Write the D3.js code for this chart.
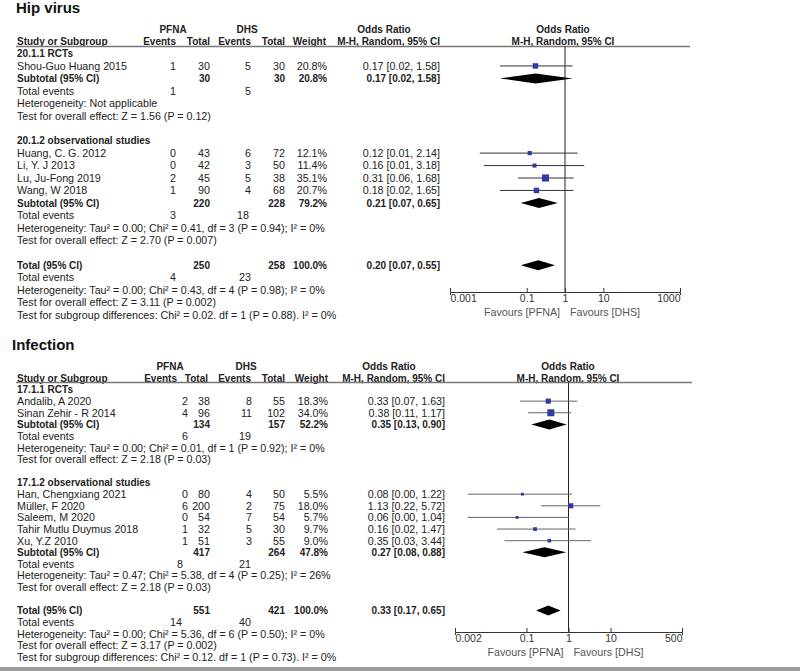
<!DOCTYPE html>
<html>
<head>
<meta charset="utf-8">
<script src="https://cdn.jsdelivr.net/npm/d3@7"></script>
<style>
  body { margin: 0; background: #fff; }
  text { font-family: "Liberation Sans", Arial, sans-serif; }
</style>
</head>
<body>
<div id="chart"></div>
<script>
// ---- Hip virus ----
const hipGroups = ["20.1.1 RCTs", "20.1.2 observational studies"];
const hipStudy = ["Shou-Guo Huang 2015", "Huang, C. G. 2012", "Li, Y. J 2013", "Lu, Ju-Fong  2019", "Wang, W 2018"];
const hipGroupOf = [0, 1, 1, 1, 1];
const hipPfnaEvents = [1, 0, 0, 2, 1];
const hipPfnaTotal = [30, 43, 42, 45, 90];
const hipDhsEvents = [5, 6, 3, 5, 4];
const hipDhsTotal = [30, 72, 50, 38, 68];
const hipWeight = [20.8, 12.1, 11.4, 35.1, 20.7];
const hipOR = [0.17, 0.12, 0.16, 0.31, 0.18];
const hipLow = [0.02, 0.006, 0.0077, 0.06, 0.02];
const hipHigh = [1.58, 2.14, 3.18, 1.68, 1.65];
// subgroup 1, subgroup 2, overall
const hipSumPfnaTotal = [30, 220, 250];
const hipSumDhsTotal = [30, 228, 258];
const hipSumWeight = [20.8, 79.2, 100.0];
const hipSumPfnaEvents = [1, 3, 4];
const hipSumDhsEvents = [5, 18, 23];
const hipSumOR = [0.17, 0.21, 0.20];
const hipSumLow = [0.02, 0.07, 0.07];
const hipSumHigh = [1.58, 0.65, 0.55];
const hipHet = [
  "Heterogeneity: Not applicable",
  "Heterogeneity: Tau² = 0.00; Chi² = 0.41, df = 3 (P = 0.94); I² = 0%",
  "Heterogeneity: Tau² = 0.00; Chi² = 0.43, df = 4 (P = 0.98); I² = 0%"
];
const hipZ = [
  "Test for overall effect: Z = 1.56 (P = 0.12)",
  "Test for overall effect: Z = 2.70 (P = 0.007)",
  "Test for overall effect: Z = 3.11 (P = 0.002)"
];
const hipSubDiff = "Test for subgroup differences: Chi² = 0.02. df = 1 (P = 0.88). I² = 0%";
const hipTicks = [0.001, 0.1, 1, 10, 1000];

// ---- Infection ----
const infGroups = ["17.1.1 RCTs", "17.1.2 observational studies"];
const infStudy = ["Andalib, A 2020", "Sinan Zehir - R 2014", "Han, Chengxiang  2021", "Müller, F 2020",
                  "Saleem, M  2020", "Tahir Mutlu Duymus 2018", "Xu, Y.Z 2010"];
const infGroupOf = [0, 0, 1, 1, 1, 1, 1];
const infPfnaEvents = [2, 4, 0, 6, 0, 1, 1];
const infPfnaTotal = [38, 96, 80, 200, 54, 32, 51];
const infDhsEvents = [8, 11, 4, 2, 7, 5, 3];
const infDhsTotal = [55, 102, 50, 75, 54, 30, 55];
const infWeight = [18.3, 34.0, 5.5, 18.0, 5.7, 9.7, 9.0];
const infOR = [0.33, 0.38, 0.08, 1.13, 0.06, 0.16, 0.35];
const infLow = [0.07, 0.11, 0.004, 0.22, 0.004, 0.02, 0.03];
const infHigh = [1.63, 1.17, 1.22, 5.72, 1.04, 1.47, 3.44];
const infSumPfnaTotal = [134, 417, 551];
const infSumDhsTotal = [157, 264, 421];
const infSumWeight = [52.2, 47.8, 100.0];
const infSumPfnaEvents = [6, 8, 14];
const infSumDhsEvents = [19, 21, 40];
const infSumOR = [0.35, 0.27, 0.33];
const infSumLow = [0.13, 0.08, 0.17];
const infSumHigh = [0.90, 0.88, 0.65];
const infHet = [
  "Heterogeneity: Tau² = 0.00; Chi² = 0.01, df = 1 (P = 0.92); I² = 0%",
  "Heterogeneity: Tau² = 0.47; Chi² = 5.38, df = 4 (P = 0.25); I² = 26%",
  "Heterogeneity: Tau² = 0.00; Chi² = 5.36, df = 6 (P = 0.50); I² = 0%"
];
const infZ = [
  "Test for overall effect: Z = 2.18 (P = 0.03)",
  "Test for overall effect: Z = 2.18 (P = 0.03)",
  "Test for overall effect: Z = 3.17 (P = 0.002)"
];
const infSubDiff = "Test for subgroup differences: Chi² = 0.12. df = 1 (P = 0.73). I² = 0%";
const infTicks = [0.002, 0.1, 1, 10, 500];

const svg = d3.select("#chart").append("svg")
  .attr("width", 800)
  .attr("height", 671);

const fmt = v => v.toFixed(2);
const ciText = (o, l, h) => `${fmt(o)} [${fmt(l)}, ${fmt(h)}]`;
const sizeScale = d3.scaleSqrt().domain([0, 100]).range([0, 12]);

function drawPanel(d, L) {
  const g = svg.append("g");
  const txt = (x, y, s, opt = {}) => g.append("text")
    .attr("x", x).attr("y", y).attr("dy", "0.36em")
    .attr("text-anchor", opt.anchor || "start")
    .attr("font-size", opt.bold ? 10 : 10.7)
    .attr("font-weight", opt.bold ? "bold" : "normal")
    .attr("fill", opt.color || "#222")
    .text(s);

  // title
  g.append("text").attr("x", L.titleX).attr("y", L.titleY)
    .attr("font-size", 15).attr("font-weight", "bold").attr("fill", "#111")
    .text(L.title);

  // headers
  const H = L.hdr;
  txt(L.pfnaC, L.h1, "PFNA", { bold: true, anchor: "middle" });
  txt(L.dhsC, L.h1, "DHS", { bold: true, anchor: "middle" });
  txt(L.orC, L.h1, "Odds Ratio", { bold: true, anchor: "middle" });
  txt(L.forestC, L.h1, "Odds Ratio", { bold: true, anchor: "middle" });
  txt(L.nameX, L.h2, "Study or Subgroup", { bold: true });
  txt(H.ev1, L.h2, "Events", { bold: true, anchor: "end" });
  txt(H.tot1, L.h2, "Total", { bold: true, anchor: "end" });
  txt(H.ev2, L.h2, "Events", { bold: true, anchor: "end" });
  txt(H.tot2, L.h2, "Total", { bold: true, anchor: "end" });
  txt(H.wt, L.h2, "Weight", { bold: true, anchor: "end" });
  txt(H.or, L.h2, "M-H, Random, 95% CI", { bold: true, anchor: "end" });
  txt(L.forestC, L.h2, "M-H, Random, 95% CI", { bold: true, anchor: "middle" });

  g.append("line")
    .attr("x1", L.nameX - 1).attr("x2", L.ruleEnd)
    .attr("y1", L.rule).attr("y2", L.rule)
    .attr("stroke", "#777").attr("stroke-width", 1.3);

  // build rows
  const rows = [];
  d.groups.forEach((gname, gi) => {
    rows.push({ type: "group", label: gname });
    d.study.forEach((s, i) => {
      if (d.groupOf[i] === gi) rows.push({ type: "study", i });
    });
    rows.push({ type: "sum", k: gi, label: "Subtotal (95% CI)" });
    rows.push({ type: "events", k: gi });
    rows.push({ type: "note", label: d.het[gi] });
    rows.push({ type: "note", label: d.z[gi] });
    rows.push({ type: "blank" });
  });
  rows.push({ type: "sum", k: 2, label: "Total (95% CI)" });
  rows.push({ type: "events", k: 2 });
  rows.push({ type: "note", label: d.het[2] });
  rows.push({ type: "note", label: d.z[2] });
  rows.push({ type: "note", label: d.subDiff });

  const y = d3.scaleLinear().domain([0, 1]).range([L.row0, L.row0 + L.step]);
  const x = d3.scaleLog().domain([d.ticks[0], d.ticks[d.ticks.length - 1]]).range(L.xRange);

  // null line
  g.append("line")
    .attr("x1", x(1)).attr("x2", x(1))
    .attr("y1", L.rule).attr("y2", L.axisY)
    .attr("stroke", "#222").attr("stroke-width", 1);

  rows.forEach((r, ri) => {
    const yy = y(ri);
    if (r.type === "group") {
      txt(L.nameX, yy, r.label, { bold: true });
    } else if (r.type === "study") {
      const i = r.i;
      txt(L.nameX, yy, d.study[i]);
      txt(L.cols.ev1, yy, d.pfnaEvents[i], { anchor: "end" });
      txt(L.cols.tot1, yy, d.pfnaTotal[i], { anchor: "end" });
      txt(L.cols.ev2, yy, d.dhsEvents[i], { anchor: "end" });
      txt(L.cols.tot2, yy, d.dhsTotal[i], { anchor: "end" });
      txt(L.cols.wt, yy, d.weight[i].toFixed(1) + "%", { anchor: "end" });
      txt(L.cols.or, yy, ciText(d.or[i], d.low[i], d.high[i]), { anchor: "end" });
      g.append("line")
        .attr("x1", x(d.low[i])).attr("x2", x(d.high[i]))
        .attr("y1", yy).attr("y2", yy)
        .attr("stroke", L.ciColor).attr("stroke-width", 1);
      const s = sizeScale(d.weight[i]);
      g.append("rect")
        .attr("x", x(d.or[i]) - s / 2).attr("y", yy - s / 2)
        .attr("width", s).attr("height", s)
        .attr("fill", "#2f3c9e");
    } else if (r.type === "sum") {
      const k = r.k;
      txt(L.nameX, yy, r.label, { bold: true });
      txt(L.cols.tot1, yy, d.sumPfnaTotal[k], { bold: true, anchor: "end" });
      txt(L.cols.tot2, yy, d.sumDhsTotal[k], { bold: true, anchor: "end" });
      txt(L.cols.wt, yy, d.sumWeight[k].toFixed(1) + "%", { bold: true, anchor: "end" });
      txt(L.cols.or, yy, ciText(d.sumOR[k], d.sumLow[k], d.sumHigh[k]), { bold: true, anchor: "end" });
      const pts = [[x(d.sumLow[k]), yy], [x(d.sumOR[k]), yy - 5], [x(d.sumHigh[k]), yy], [x(d.sumOR[k]), yy + 5]];
      g.append("path").attr("d", d3.line()(pts) + "Z").attr("fill", "#000");
    } else if (r.type === "events") {
      const k = r.k;
      txt(L.nameX, yy, "Total events");
      txt(L.teX[k][0], yy, d.sumPfnaEvents[k], { anchor: "end" });
      txt(L.teX[k][1], yy, d.sumDhsEvents[k], { anchor: "end" });
    } else if (r.type === "note") {
      txt(L.nameX, yy, r.label);
    }
  });

  // axis
  const axis = d3.axisBottom(x)
    .tickValues(d.ticks)
    .tickFormat(v => String(v))
    .tickSizeInner(-4)
    .tickSizeOuter(3)
    .tickPadding(3);
  const ax = g.append("g")
    .attr("transform", `translate(0,${L.axisY})`)
    .call(axis);
  ax.attr("font-family", null).attr("font-size", null);
  ax.selectAll("path, line").attr("stroke", "#333");
  ax.selectAll("text")
    .attr("font-size", 10.5)
    .attr("fill", "#333")
    .attr("text-anchor", (v, i) => i === 0 ? "start" : (i === d.ticks.length - 1 ? "end" : "middle"));

  txt(x(1) - 5, L.axisY + 20, "Favours [PFNA]", { anchor: "end", color: "#555" });
  txt(x(1) + 5, L.axisY + 20, "Favours [DHS]", { color: "#555" });
}

drawPanel({
  groups: hipGroups, study: hipStudy, groupOf: hipGroupOf,
  pfnaEvents: hipPfnaEvents, pfnaTotal: hipPfnaTotal, dhsEvents: hipDhsEvents, dhsTotal: hipDhsTotal,
  weight: hipWeight, or: hipOR, low: hipLow, high: hipHigh,
  sumPfnaTotal: hipSumPfnaTotal, sumDhsTotal: hipSumDhsTotal, sumWeight: hipSumWeight,
  sumPfnaEvents: hipSumPfnaEvents, sumDhsEvents: hipSumDhsEvents,
  sumOR: hipSumOR, sumLow: hipSumLow, sumHigh: hipSumHigh,
  het: hipHet, z: hipZ, subDiff: hipSubDiff, ticks: hipTicks
}, {
  title: "Hip virus", titleX: 16, titleY: 13, nameX: 17,
  h1: 29, h2: 41, rule: 46.5, ruleEnd: 690, row0: 53.5, step: 12.45,
  hdr: { ev1: 176, tot1: 210, ev2: 251, tot2: 285, wt: 326, or: 440 },
  cols: { ev1: 176, tot1: 210, ev2: 251, tot2: 285, wt: 327, or: 440 },
  teX: [[176, 251], [176, 249], [176, 251]],
  pfnaC: 173, dhsC: 247, orC: 384, forestC: 563,
  xRange: [450, 680], axisY: 292, ciColor: "#333"
});

drawPanel({
  groups: infGroups, study: infStudy, groupOf: infGroupOf,
  pfnaEvents: infPfnaEvents, pfnaTotal: infPfnaTotal, dhsEvents: infDhsEvents, dhsTotal: infDhsTotal,
  weight: infWeight, or: infOR, low: infLow, high: infHigh,
  sumPfnaTotal: infSumPfnaTotal, sumDhsTotal: infSumDhsTotal, sumWeight: infSumWeight,
  sumPfnaEvents: infSumPfnaEvents, sumDhsEvents: infSumDhsEvents,
  sumOR: infSumOR, sumLow: infSumLow, sumHigh: infSumHigh,
  het: infHet, z: infZ, subDiff: infSubDiff, ticks: infTicks
}, {
  title: "Infection", titleX: 12, titleY: 350, nameX: 17,
  h1: 366, h2: 378, rule: 382.5, ruleEnd: 692, row0: 389.5, step: 11.63,
  hdr: { ev1: 177, tot1: 208, ev2: 251, tot2: 285, wt: 328, or: 445 },
  cols: { ev1: 188, tot1: 210, ev2: 252, tot2: 285, wt: 328, or: 445 },
  teX: [[188, 251], [183, 251], [182, 251]],
  pfnaC: 170, dhsC: 246, orC: 389, forestC: 568,
  xRange: [455, 682], axisY: 632, ciColor: "#666"
});

// grey frame strip along the bottom edge
svg.append("rect")
  .attr("x", 0).attr("y", 667)
  .attr("width", 800).attr("height", 4)
  .attr("fill", "#9c9c9c");
</script>
</body>
</html>
